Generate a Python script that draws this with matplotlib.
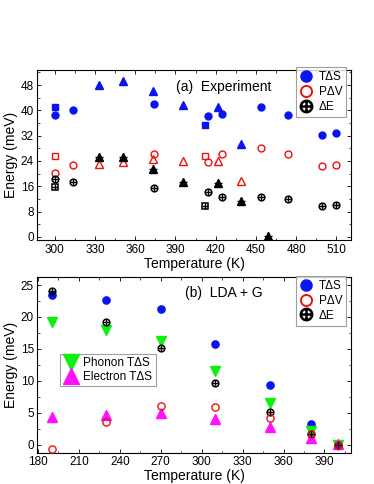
import matplotlib
matplotlib.use("Agg")
import matplotlib.pyplot as plt
from matplotlib.lines import Line2D
from matplotlib.ticker import MultipleLocator

plt.rcParams['font.family'] = ['Liberation Sans', 'DejaVu Sans']

# ---------------- (a) Experiment ----------------
# circles
a_circ_T = [300, 314, 374, 414, 425, 454, 474, 499, 510]
a_circ_TdS = [38.6, 40.0, 42.1, 38.2, 39.0, 41.2, 38.4, 32.2, 32.8]
a_circ_PdV = [20.1, 22.6, 26.3, 23.8, 26.2, 28.1, 26.1, 22.3, 22.6]
a_circ_dE = [18.3, 17.2, 15.5, 14.1, 12.6, 12.6, 12.0, 9.7, 10.0]
# squares
a_sq_T = [300, 412]
a_sq_TdS = [41.2, 35.4]
a_sq_PdV = [25.7, 25.7]
a_sq_dE = [15.8, 9.7]
# triangles
a_tri_T = [333, 351, 373, 396, 422, 439]
a_tri_TdS = [48.1, 49.3, 46.2, 41.6, 41.0, 29.3]
a_tri_PdV = [22.9, 23.8, 24.5, 23.9, 23.9, 17.8]
a_tri_dE_T = [333, 351, 373, 396, 422, 439, 459]
a_tri_dE = [25.4, 25.4, 21.5, 17.2, 17.0, 11.5, 0.2]

# ---------------- (b) LDA + G ----------------
b_T = [190, 230, 270, 310, 350, 380, 400]
b_TdS = [23.5, 22.7, 21.2, 15.7, 9.4, 3.3, 0.0]
b_PdV = [-0.6, 3.5, 6.0, 5.9, 4.25, 1.75, 0.0]
b_dE = [24.1, 19.2, 15.2, 9.75, 5.1, 1.7, 0.0]
b_phonon = [19.2, 18.0, 16.2, 11.6, 6.6, 2.2, 0.0]
b_electron = [4.35, 4.7, 5.0, 4.1, 2.8, 1.1, 0.1]

a_xticks = [300, 330, 360, 390, 420, 450, 480, 510]
a_yticks = [0, 8, 16, 24, 32, 40, 48]
b_xticks = [180, 210, 240, 270, 300, 330, 360, 390]
b_yticks = [0, 5, 10, 15, 20, 25]

BLUE = '#0a14f0'
RED = '#ee1111'
GREEN = '#11ee11'
MAG = '#ff11ff'

fig = plt.figure(figsize=(3.74, 4.84), dpi=100)
axA = fig.add_axes([0.0997, 0.504, 0.839, 0.351])
axB = fig.add_axes([0.0997, 0.065, 0.839, 0.362])

def style(ax):
    ax.tick_params(direction='in', which='both', top=True, right=True, labelsize=8.5, pad=2.5)
    ax.tick_params(which='major', length=3, width=0.6)
    ax.tick_params(which='minor', length=1.8, width=0.5)
    for s in ax.spines.values():
        s.set_linewidth(0.8)

def crossed(ax, x, y, marker, ms, mew=1.1, fill='none'):
    ax.plot(x, y, ls='none', marker=marker, ms=ms, mfc=fill, mec='black', mew=mew, zorder=3)
    ax.plot(x, y, ls='none', marker='+', ms=ms, mec='black', mew=mew * 0.9, zorder=4)

# panel a
ms = 5.0
axA.plot(a_circ_T, a_circ_TdS, 'o', ms=ms, color=BLUE, mec=BLUE)
axA.plot(a_sq_T, a_sq_TdS, 's', ms=ms, color=BLUE, mec=BLUE)
axA.plot(a_tri_T, a_tri_TdS, '^', ms=5.5, color=BLUE, mec=BLUE)
axA.plot(a_circ_T, a_circ_PdV, 'o', ms=ms, mfc='none', mec=RED, mew=1.0)
axA.plot(a_sq_T, a_sq_PdV, 's', ms=ms, mfc='none', mec=RED, mew=1.0)
axA.plot(a_tri_T, a_tri_PdV, '^', ms=5.5, mfc='none', mec=RED, mew=1.0)
crossed(axA, a_circ_T, a_circ_dE, 'o', 4.8)
crossed(axA, a_sq_T, a_sq_dE, 's', 4.6)
axA.plot(a_tri_dE_T, a_tri_dE, '^', ms=5.5, color='black', ls='none', zorder=3)
axA.plot(a_tri_dE_T, a_tri_dE, '+', ms=5.5, mec='black', mew=1.0, ls='none', zorder=4)

axA.set_xlim(287, 521)
axA.set_ylim(-1.0, 52.7)
axA.set_xticks(a_xticks)
axA.set_yticks(a_yticks)
axA.xaxis.set_minor_locator(MultipleLocator(15))
axA.yaxis.set_minor_locator(MultipleLocator(4))
style(axA)
axA.set_xlabel('Temperature (K)', fontsize=10, labelpad=1)
axA.set_ylabel('Energy (meV)', fontsize=10, labelpad=2)
axA.text(0.595, 0.9, '(a)  Experiment', transform=axA.transAxes, ha='center', va='center', fontsize=10)

hA = [Line2D([], [], ls='none', marker='o', ms=8, color=BLUE),
      Line2D([], [], ls='none', marker='o', ms=8, mfc='none', mec=RED, mew=1.4),
      Line2D([], [], ls='none', marker='$\\bigoplus$', ms=9, color='black')]
legA = axA.legend(hA, ['T\u0394S', 'P\u0394V', '\u0394E'], loc='upper right',
                  bbox_to_anchor=(0.985, 1.02), fontsize=8.5, frameon=True, fancybox=False,
                  handlelength=1.1, handletextpad=0.5, borderpad=0.35, labelspacing=0.25,
                  borderaxespad=0)
legA.get_frame().set_edgecolor('#888888')
legA.get_frame().set_linewidth(0.8)

# panel b
axB.plot(b_T, b_TdS, 'o', ms=5.2, color=BLUE, zorder=3)
axB.plot(b_T, b_phonon, 'v', ms=6.5, color=GREEN, zorder=3)
axB.plot(b_T, b_electron, '^', ms=6.5, color=MAG, zorder=3)
axB.plot(b_T, b_PdV, 'o', ms=5.2, mfc='none', mec=RED, mew=1.0, zorder=4)
crossed(axB, b_T, b_dE, 'o', 4.8)

axB.set_xlim(179.5, 409.5)
axB.set_ylim(-1.2, 26.2)
axB.set_xticks(b_xticks)
axB.set_yticks(b_yticks)
axB.xaxis.set_minor_locator(MultipleLocator(15))
axB.yaxis.set_minor_locator(MultipleLocator(2.5))
style(axB)
axB.set_xlabel('Temperature (K)', fontsize=10, labelpad=1)
axB.set_ylabel('Energy (meV)', fontsize=10, labelpad=2)
axB.text(0.595, 0.91, '(b)  LDA + G', transform=axB.transAxes, ha='center', va='center', fontsize=10)

hB = [Line2D([], [], ls='none', marker='o', ms=8, color=BLUE),
      Line2D([], [], ls='none', marker='o', ms=8, mfc='none', mec=RED, mew=1.4),
      Line2D([], [], ls='none', marker='$\\bigoplus$', ms=9, color='black')]
legB = axB.legend(hB, ['T\u0394S', 'P\u0394V', '\u0394E'], loc='upper right',
                  bbox_to_anchor=(0.985, 1.01), fontsize=8.5, frameon=True, fancybox=False,
                  handlelength=1.1, handletextpad=0.5, borderpad=0.35, labelspacing=0.25,
                  borderaxespad=0)
legB.get_frame().set_edgecolor('#888888')
legB.get_frame().set_linewidth(0.8)
axB.add_artist(legB)

hB2 = [Line2D([], [], ls='none', marker='v', ms=12, color=GREEN),
       Line2D([], [], ls='none', marker='^', ms=12, color=MAG)]
legB2 = axB.legend(hB2, ['Phonon T\u0394S', 'Electron T\u0394S'], loc='upper left',
                   bbox_to_anchor=(0.072, 0.565), fontsize=8.5, frameon=True, fancybox=False,
                   handlelength=1.2, handletextpad=0.5, borderpad=0.3, labelspacing=0.15,
                   borderaxespad=0)
legB2.get_frame().set_edgecolor('#888888')
legB2.get_frame().set_linewidth(0.8)

fig.savefig('out.png', dpi=100)
